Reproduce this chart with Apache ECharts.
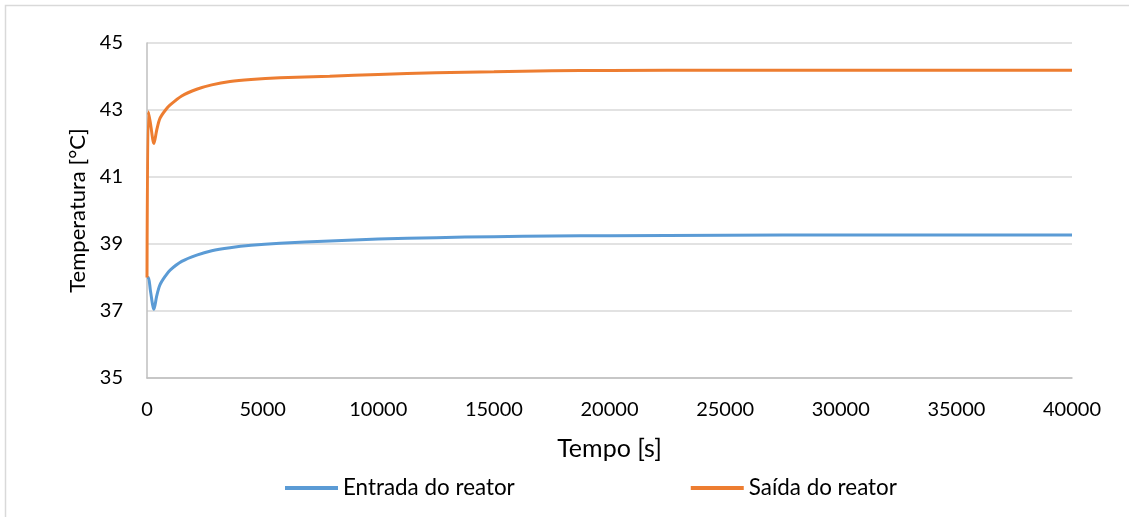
<!DOCTYPE html>
<html>
<head>
<meta charset="utf-8">
<script src="https://cdn.jsdelivr.net/npm/echarts@6/dist/echarts.min.js"></script>
<style>html,body{margin:0;padding:0;background:#fff}#c{width:1129px;height:517px}</style>
</head>
<body>
<div id="c"></div>
<script>
const seriesNames = ['Entrada do reator', 'Saída do reator'];
const entradaTime = [0, 60, 150, 300, 420, 560, 800, 1000, 1500, 2150, 2800, 3590, 4500, 5750, 7900, 10000, 12500, 15000, 17500, 20000, 25000, 30000, 35000, 40000];
const entradaTemp = [38.0, 38.0, 37.6, 37.05, 37.45, 37.78, 38.05, 38.22, 38.48, 38.67, 38.8, 38.89, 38.96, 39.02, 39.09, 39.15, 39.19, 39.22, 39.24, 39.25, 39.26, 39.27, 39.27, 39.27];
const saidaTime = [0, 60, 150, 300, 420, 560, 800, 1000, 1500, 2150, 2800, 3590, 4500, 5750, 7900, 10000, 12500, 15000, 17500, 20000, 25000, 30000, 35000, 40000];
const saidaTemp = [38.0, 42.95, 42.6, 42.0, 42.4, 42.75, 43.0, 43.15, 43.42, 43.62, 43.75, 43.85, 43.91, 43.96, 44.01, 44.06, 44.11, 44.14, 44.17, 44.18, 44.19, 44.19, 44.19, 44.19];
const yTicks = { min: 35, max: 45, interval: 2 };
const xTicks = { min: 0, max: 40000, interval: 5000 };

const pairs = (xs, ys) => xs.map((x, i) => [x, ys[i]]);
const FONT = 'Lato, "Open Sans", sans-serif';
const chart = echarts.init(document.getElementById('c'), null, { renderer: 'canvas' });
chart.setOption({
  animation: false,
  backgroundColor: '#fff',
  graphic: [{
    type: 'rect', silent: true, z: -1,
    shape: { x: 5.5, y: 5.5, width: 1140, height: 540 },
    style: { fill: 'none', stroke: '#d9d9d9', lineWidth: 1.5 }
  }],
  grid: { left: 147, right: 57, top: 43, bottom: 139 },
  legend: {
    top: 472, left: 280,
    itemGap: 176, itemWidth: 53, itemHeight: 4,
    icon: 'rect',
    textStyle: { fontFamily: FONT, fontSize: 22.4, color: '#000' },
    data: seriesNames
  },
  xAxis: {
    type: 'value', min: xTicks.min, max: xTicks.max, interval: xTicks.interval,
    name: 'Tempo [s]', nameLocation: 'middle', nameGap: 58,
    nameTextStyle: { fontFamily: FONT, fontSize: 25, color: '#000' },
    axisLine: { show: true, lineStyle: { color: '#bfbfbf', width: 1.5 } },
    axisTick: { show: false },
    splitLine: { show: false },
    axisLabel: { fontFamily: FONT, fontSize: 20, color: '#000', margin: 22, formatter: v => String(v) }
  },
  yAxis: {
    type: 'value', min: yTicks.min, max: yTicks.max, interval: yTicks.interval,
    name: 'Temperatura [°C]', nameLocation: 'middle', nameGap: 58, nameRotate: 90,
    nameTextStyle: { fontFamily: FONT, fontSize: 22, color: '#000' },
    axisLine: { show: true, lineStyle: { color: '#bfbfbf', width: 1.5 } },
    axisTick: { show: false },
    splitLine: { show: true, lineStyle: { color: '#d9d9d9', width: 1.5 } },
    axisLabel: { fontFamily: FONT, fontSize: 20, color: '#000', margin: 24 }
  },
  series: [
    { name: seriesNames[0], type: 'line', smooth: 0.3, showSymbol: false, symbol: 'none',
      color: '#5B9BD5', lineStyle: { width: 3, color: '#5B9BD5' },
      data: pairs(entradaTime, entradaTemp) },
    { name: seriesNames[1], type: 'line', smooth: 0.3, showSymbol: false, symbol: 'none',
      color: '#ED7D31', lineStyle: { width: 3, color: '#ED7D31' },
      data: pairs(saidaTime, saidaTemp) }
  ]
});
</script>
</body>
</html>
